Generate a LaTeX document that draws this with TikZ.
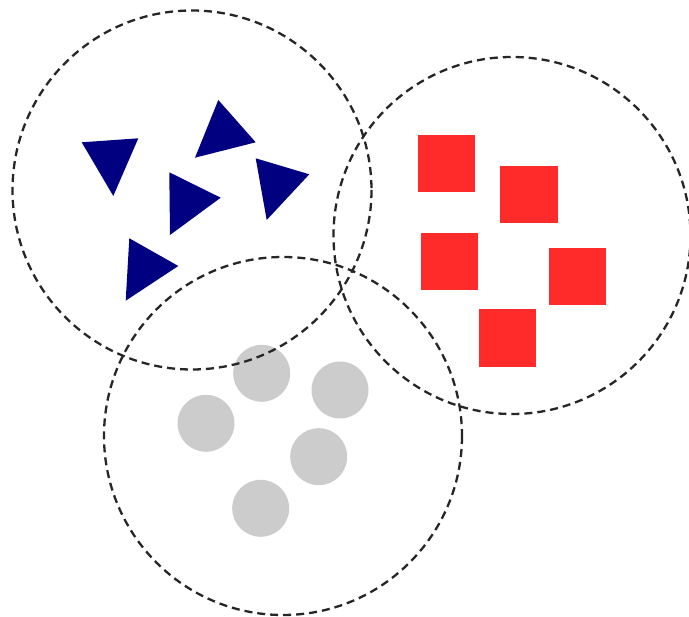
\documentclass[tikz,border=0pt]{standalone}
\usepackage{tikz}
\usepackage{xcolor}
\definecolor{clusternavy}{RGB}{0, 0, 128}
\definecolor{clusterred}{RGB}{255, 42, 42}
\definecolor{clustergray}{RGB}{204, 204, 204}
\usetikzlibrary{
    shapes.geometric,
    calc
}

\begin{document}
\begin{tikzpicture}[x=1pt, y=-1pt,
    cluster/.style={draw=black!85, line width=2.3pt, dash pattern=on 8pt off 5pt},
    tri/.style={fill=clusternavy},
    sq/.style={fill=clusterred},
    dot/.style={fill=clustergray}]
            \useasboundingbox (0,0) rectangle (689,617);

            % Gray circles
            \fill[dot] (261.7,373.3) circle (28.5);
            \fill[dot] (340,390) circle (28.5);
            \fill[dot] (206,423.3) circle (28.5);
            \fill[dot] (318.7,456.7) circle (28.5);
            \fill[dot] (260.7,508.3) circle (28.5);

            % Navy triangles
            \fill[tri] (81.7,142.3) -- (138.3,138.3) -- (113.3,196) -- cycle;
            \fill[tri] (218.3,100) -- (255.7,142.3) -- (195,157.7) -- cycle;
            \fill[tri] (169.3,172.3) -- (220.7,197.7) -- (170,235) -- cycle;
            \fill[tri] (255.7,158.3) -- (309.3,174.3) -- (266.7,220) -- cycle;
            \fill[tri] (129.3,238.3) -- (178.3,266) -- (125.7,300.7) -- cycle;

            % Red squares
            \fill[sq] (417.7,135) rectangle (475.3,192.3);
            \fill[sq] (500,165.7) rectangle (557.7,223.3);
            \fill[sq] (421,233.3) rectangle (478.3,290.3);
            \fill[sq] (549,248) rectangle (606.3,305.3);
            \fill[sq] (478.7,309) rectangle (536.3,366.7);

            % Dashed cluster outlines
            \draw[cluster] (192,190) circle (179.5);
            \draw[cluster] (512,235.5) circle (178.5);
            \draw[cluster] (283,436) circle (179);
        \end{tikzpicture}
\end{document}
